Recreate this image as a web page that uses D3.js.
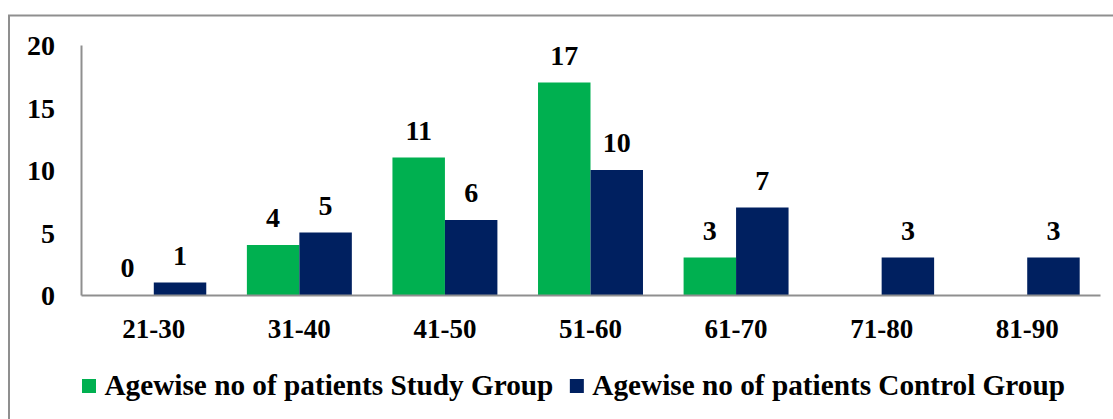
<!DOCTYPE html>
<html>
<head>
<meta charset="utf-8">
<script src="https://cdn.jsdelivr.net/npm/d3@7/dist/d3.min.js"></script>
<style>
  html, body { margin: 0; padding: 0; background: #fff; }
  svg { display: block; }
  svg text { font-family: 'Liberation Serif', 'Times New Roman', serif; font-weight: bold; }
</style>
</head>
<body>
<svg id="chart" width="1113" height="419"></svg>
<script>
// Age groups and patient counts per group
const ageGroups = ["21-30", "31-40", "41-50", "51-60", "61-70", "71-80", "81-90"];
const studyGroup = [0, 4, 11, 17, 3, 0, 0];
const controlGroup = [1, 5, 6, 10, 7, 3, 3];
const seriesNames = ["Agewise no of patients Study Group", "Agewise no of patients Control Group"];
const seriesColors = ["#00B050", "#002060"];
const yTicks = [0, 5, 10, 15, 20];
// Study group labels are shown only where a bar or explicit zero appears
const studyLabelShown = [true, true, true, true, true, false, false];

const SERIF = "'Liberation Serif', 'Times New Roman', serif";
const svg = d3.select("#chart");
const W = 1113, H = 419;

// Outer frame
svg.append("rect")
  .attr("x", 9).attr("y", 15.5)
  .attr("width", W + 20).attr("height", H + 20)
  .attr("fill", "none").attr("stroke", "#8f8f8f").attr("stroke-width", 2);

const plot = { left: 81, right: 1100, top: 45, bottom: 295 };

const x = d3.scaleBand()
  .domain(ageGroups)
  .range([plot.left, plot.right])
  .paddingInner(0.279)
  .paddingOuter(0.1395);

const xs = d3.scaleBand()
  .domain([0, 1])
  .range([0, x.bandwidth()]);

const y = d3.scaleLinear()
  .domain([0, 20])
  .range([plot.bottom, plot.top]);

const rows = ageGroups.map((g, i) => ({ group: g, values: [studyGroup[i], controlGroup[i]], i }));

// Bars
const gBars = svg.append("g");
rows.forEach(r => {
  r.values.forEach((v, s) => {
    if (v > 0) {
      gBars.append("rect")
        .attr("x", x(r.group) + xs(s))
        .attr("y", y(v))
        .attr("width", xs.bandwidth())
        .attr("height", y(0) - y(v))
        .attr("fill", seriesColors[s]);
    }
  });
});

// Value labels
const gLabels = svg.append("g")
  .attr("text-anchor", "middle")
  .attr("fill", "#000");
rows.forEach(r => {
  r.values.forEach((v, s) => {
    if (s === 0 && !studyLabelShown[r.i]) return;
    gLabels.append("text")
      .style("font-family", SERIF)
      .style("font-size", "28px")
      .attr("x", x(r.group) + xs(s) + xs.bandwidth() / 2)
      .attr("y", y(v) - 18)
      .text(v);
  });
});

// Y axis
const yAxis = d3.axisLeft(y).tickValues(yTicks).tickSize(0).tickPadding(26);
const gy = svg.append("g")
  .attr("transform", `translate(${plot.left},0)`)
  .call(yAxis);
gy.select(".domain").attr("stroke", "#8f8f8f").attr("stroke-width", 2);
gy.selectAll("text")
  .style("font-family", SERIF)
  .style("font-size", "28px")
  .attr("fill", "#000")
  .attr("dy", "0.34em");

// X axis
const xAxis = d3.axisBottom(x).tickSize(0).tickPadding(24);
const gx = svg.append("g")
  .attr("transform", `translate(0,${plot.bottom})`)
  .call(xAxis);
gx.select(".domain").attr("stroke", "#8f8f8f").attr("stroke-width", 2);
gx.selectAll("text")
  .style("font-family", SERIF)
  .style("font-size", "27px")
  .attr("fill", "#000")
  .attr("dy", "0.71em");

// Legend
const legend = svg.append("g");
let lx = 82;
seriesNames.forEach((name, s) => {
  legend.append("rect")
    .attr("x", lx).attr("y", 379)
    .attr("width", 14).attr("height", 14)
    .attr("fill", seriesColors[s]);
  const t = legend.append("text")
    .style("font-family", SERIF)
    .style("font-size", "29.25px")
    .attr("x", lx + 22.5).attr("y", 395)
    .attr("fill", "#000")
    .text(name);
  lx = lx + 22.5 + t.node().getComputedTextLength() + 16.5;
});
</script>
</body>
</html>
